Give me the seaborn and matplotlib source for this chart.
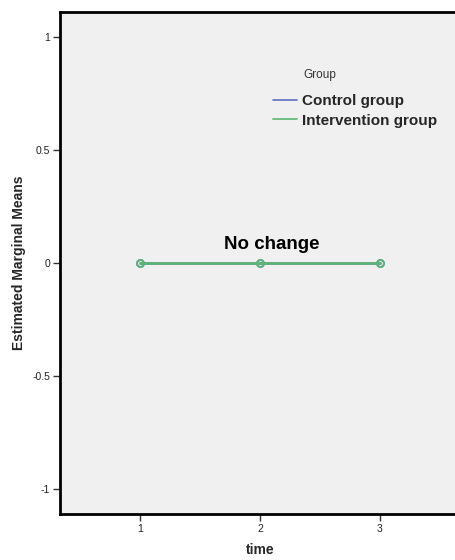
import matplotlib
matplotlib.use("Agg")
import matplotlib.pyplot as plt
import seaborn as sns
import pandas as pd
from matplotlib.lines import Line2D

# Estimated marginal means per time point and group
time_points = [1, 2, 3]
groups = ["Control group", "Intervention group"]
control_means = [0.0, 0.0, 0.0]
intervention_means = [0.0, 0.0, 0.0]
y_ticks = [-1, -0.5, 0, 0.5, 1]
y_tick_labels = ["-1", "-0.5", "0", "0.5", "1"]
annotation = "No change"

group_colors = {"Control group": "#5a6fc0", "Intervention group": "#5cb870"}

df = pd.DataFrame({
    "time": time_points * 2,
    "Group": [groups[0]] * 3 + [groups[1]] * 3,
    "mean": control_means + intervention_means,
})

sns.set_theme(style="white")
plt.rcParams["font.family"] = ["Liberation Sans", "DejaVu Sans"]

W, H = 455, 560
fig = plt.figure(figsize=(W / 100, H / 100), dpi=100)
ax = fig.add_axes([0.132, 0.0821, 0.879, 0.8965])
ax.set_facecolor("#f0f0f0")

sns.lineplot(data=df, x="time", y="mean", hue="Group", palette=group_colors,
             marker="o", markersize=5, markerfacecolor="none", markeredgewidth=1.3,
             linewidth=1.8, ax=ax, legend=False)
for ln in ax.lines:
    ln.set_markeredgecolor(ln.get_color())

ax.set_xlim(0.333, 3.667)
ax.set_ylim(-1.11, 1.11)
ax.set_xticks(time_points)
ax.set_xticklabels([str(t) for t in time_points])
ax.set_yticks(y_ticks)
ax.set_yticklabels(y_tick_labels)
ax.tick_params(axis="both", direction="out", length=5, width=1, color="#333333",
               labelsize=7.5, labelcolor="#222222", pad=2, left=True, bottom=True)

for side in ["left", "bottom", "top", "right"]:
    ax.spines[side].set_visible(True)
    ax.spines[side].set_color("black")
    ax.spines[side].set_linewidth(2)

ax.set_xlabel("time", fontsize=10, fontweight="bold", labelpad=7)
ax.set_ylabel("Estimated Marginal Means", fontsize=10, fontweight="bold", labelpad=5)

ax.text(2.1, 0.084, annotation, fontsize=13.5, fontweight="bold",
        ha="center", va="center", color="black")

# legend: title drawn separately so its gap to the entries can be set freely
fig.text(320 / W, 1 - 75 / H, "Group", fontsize=8.5, color="#333333",
         ha="center", va="center")
handles = [Line2D([0], [0], color=group_colors[g], linewidth=1.2) for g in groups]
leg = ax.legend(handles, groups, frameon=False,
                loc="upper left", bbox_to_anchor=(273 / W, 1 - 94 / H),
                bbox_transform=fig.transFigure, borderpad=0, borderaxespad=0,
                handlelength=1.6, handletextpad=0.3, labelspacing=0.36,
                prop={"size": 11, "weight": "bold"})

fig.savefig("out.png", dpi=100, facecolor="white")
